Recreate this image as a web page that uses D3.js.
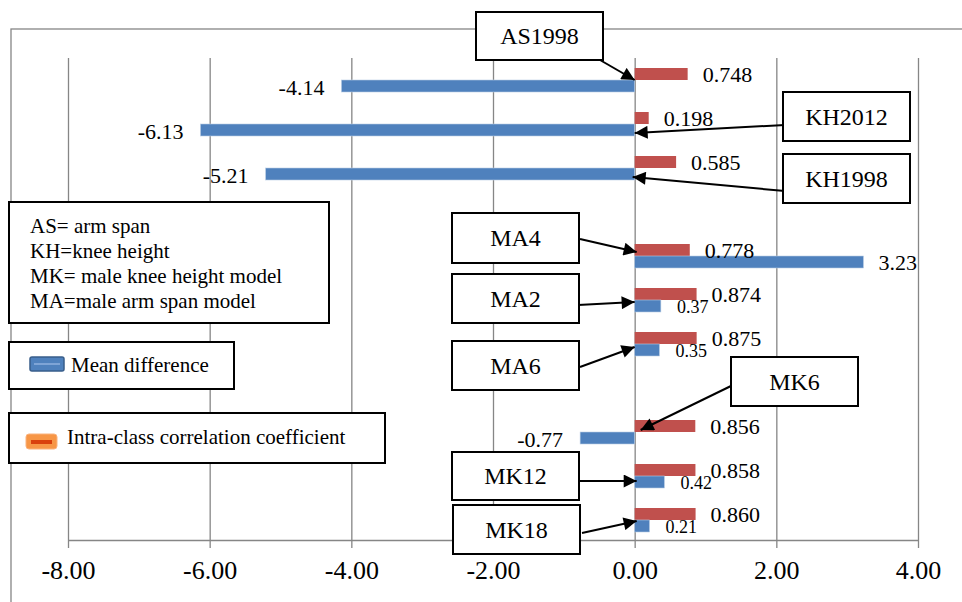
<!DOCTYPE html>
<html>
<head>
<meta charset="utf-8">
<script src="https://cdn.jsdelivr.net/npm/d3@7"></script>
<style>
    body { margin: 0; background: #fff; }
    svg { display: block; }
</style>
</head>
<body>
<svg id="chart" width="962" height="602" font-family="'Liberation Serif', 'Times New Roman', serif"></svg>
<script>
// categories top to bottom, two blank rows as in the original
const categories = ["AS1998", "KH2012", "KH1998", "", "MA4", "MA2", "MA6", " ", "MK6", "MK12", "MK18"];
const meanDifference = [-4.14, -6.13, -5.21, null, 3.23, 0.37, 0.35, null, -0.77, 0.42, 0.21];
const iccValues = [0.748, 0.198, 0.585, null, 0.778, 0.874, 0.875, null, 0.856, 0.858, 0.860];
const xTicks = [-8, -6, -4, -2, 0, 2, 4];
const seriesNames = ["Mean difference", "Intra-class correlation coefficient"];
const legendNotes = ["AS= arm span", "KH=knee height", "MK= male knee height model", "MA=male arm span model"];

const blue = "#4f81bd";
const red = "#c0504d";
const grey = "#868686";
const serif = "'Liberation Serif', 'Times New Roman', serif";

// callout boxes (layout only): box x,y,w,h, line start, tip offset from band centre
const callouts = [
    {cat: "AS1998", box: [476, 12, 127, 48], from: [600, 60], dx: 0, dy: 0},
    {cat: "KH2012", box: [783, 92, 127, 49], from: [785, 125], dx: 0, dy: 9},
    {cat: "KH1998", box: [783, 154, 127, 49], from: [785, 191], dx: -2, dy: 9},
    {cat: "MA4", box: [452, 213, 127, 50], from: [580, 239], dx: 2, dy: -4},
    {cat: "MA2", box: [452, 274, 127, 49], from: [578, 305], dx: 0, dy: 2},
    {cat: "MA6", box: [452, 341, 127, 49], from: [580, 367], dx: 0, dy: 3},
    {cat: "MK6", box: [731, 357, 127, 49], from: [733, 385], dx: 6, dy: -2},
    {cat: "MK12", box: [452, 452, 127, 48], from: [580, 481], dx: 2, dy: 5},
    {cat: "MK18", box: [453, 505, 127, 49], from: [582, 533], dx: 2, dy: 1}
];

// plain hyphen for negatives, like the original
const locale = d3.formatLocale({decimal: ".", thousands: ",", grouping: [3], currency: ["", ""], minus: "-"});
const fmt2 = locale.format(".2f");
const fmt3 = locale.format(".3f");

const svg = d3.select("#chart");
const plotTop = 58, plotBottom = 540;

const x = d3.scaleLinear().domain([-8, 4]).range([68, 918]);
const y = d3.scaleBand().domain(categories).range([plotTop, 542])
    .paddingInner(20 / 44).paddingOuter(10 / 44);
const sub = d3.scaleBand().domain(["icc", "md"]).range([0, y.bandwidth()]);

// chart area border
svg.append("rect")
    .attr("x", 11).attr("y", 29)
    .attr("width", 1000).attr("height", 1000)
    .attr("fill", "none").attr("stroke", grey).attr("stroke-width", 1.3);

// vertical gridlines
let grid = svg.append("g")
    .attr("transform", `translate(0,${plotBottom})`)
    .call(d3.axisBottom(x).tickValues(xTicks).tickSize(-(plotBottom - plotTop)).tickFormat(""));
grid.select(".domain").remove();
grid.selectAll("line").attr("stroke", grey).attr("stroke-width", 1.3);

// bottom axis
let axis = svg.append("g")
    .attr("transform", `translate(0,${plotBottom})`)
    .call(d3.axisBottom(x).tickValues(xTicks).tickFormat(fmt2)
        .tickSize(8).tickSizeOuter(0).tickPadding(13));
axis.attr("font-family", serif);
axis.select(".domain").attr("stroke", grey).attr("stroke-width", 1.3);
axis.selectAll("line").attr("stroke", grey).attr("stroke-width", 1.3);
axis.selectAll("text").attr("font-size", 26).attr("fill", "#000");

let rows = categories.map((c, i) => ({cat: c, md: meanDifference[i], icc: iccValues[i]}))
    .filter(d => d.md !== null);

// bars
svg.append("g").selectAll("rect")
    .data(rows).enter().append("rect")
    .attr("x", d => x(Math.min(0, d.icc)))
    .attr("y", d => y(d.cat) + sub("icc"))
    .attr("width", d => Math.abs(x(d.icc) - x(0)))
    .attr("height", sub.bandwidth())
    .attr("fill", red);

svg.append("g").selectAll("rect")
    .data(rows).enter().append("rect")
    .attr("x", d => x(Math.min(0, d.md)))
    .attr("y", d => y(d.cat) + sub("md"))
    .attr("width", d => Math.abs(x(d.md) - x(0)))
    .attr("height", sub.bandwidth())
    .attr("fill", blue)
    .attr("stroke", "#b9cde5").attr("stroke-width", 0.6);

// data labels
svg.append("g").selectAll("text")
    .data(rows).enter().append("text")
    .attr("x", d => x(d.icc) + 15)
    .attr("y", d => y(d.cat) + sub("icc") + sub.bandwidth() / 2 + 8)
    .attr("font-size", 22)
    .text(d => fmt3(d.icc));

svg.append("g").selectAll("text")
    .data(rows).enter().append("text")
    .each(function (d) {
        let cy = y(d.cat) + sub("md") + sub.bandwidth() / 2;
        let t = d3.select(this).text(fmt2(d.md));
        if (d.md < 0) {
            t.attr("x", x(d.md) - 17).attr("y", cy + 9).attr("text-anchor", "end").attr("font-size", 22);
        } else if (d.md >= 1) {
            t.attr("x", x(d.md) + 15).attr("y", cy + 8).attr("font-size", 22);
        } else {
            t.attr("x", x(d.md) + 16).attr("y", cy + 7).attr("font-size", 18);
        }
    });

// arrow head
svg.append("defs").append("marker")
    .attr("id", "head")
    .attr("viewBox", "0 0 10 10")
    .attr("refX", 10).attr("refY", 5)
    .attr("markerWidth", 15).attr("markerHeight", 13)
    .attr("markerUnits", "userSpaceOnUse")
    .attr("orient", "auto")
    .append("path").attr("d", "M0,0L10,5L0,10Z").attr("fill", "#000");

// callouts
let co = svg.append("g").selectAll("g").data(callouts).enter().append("g");
co.append("line")
    .attr("x1", d => d.from[0]).attr("y1", d => d.from[1])
    .attr("x2", d => x(0) + d.dx)
    .attr("y2", d => y(d.cat) + y.bandwidth() / 2 + d.dy)
    .attr("stroke", "#000").attr("stroke-width", 2)
    .attr("marker-end", "url(#head)");
co.append("rect")
    .attr("x", d => d.box[0]).attr("y", d => d.box[1])
    .attr("width", d => d.box[2]).attr("height", d => d.box[3])
    .attr("fill", "#fff").attr("stroke", "#000").attr("stroke-width", 2);
co.append("text")
    .attr("x", d => d.box[0] + d.box[2] / 2)
    .attr("y", d => d.box[1] + d.box[3] / 2 + 8)
    .attr("text-anchor", "middle").attr("font-size", 24)
    .text(d => d.cat);

// abbreviation note
svg.append("rect")
    .attr("x", 9).attr("y", 202).attr("width", 320).attr("height", 121)
    .attr("fill", "#fff").attr("stroke", "#000").attr("stroke-width", 2);
svg.append("g").selectAll("text")
    .data(legendNotes).enter().append("text")
    .attr("x", 30).attr("y", (d, i) => 233 + i * 25)
    .attr("font-size", 21)
    .text(d => d);

// legend: mean difference
svg.append("rect")
    .attr("x", 9).attr("y", 342).attr("width", 225).attr("height", 47)
    .attr("fill", "#fff").attr("stroke", "#000").attr("stroke-width", 2);
svg.append("rect")
    .attr("x", 30).attr("y", 357).attr("width", 34).attr("height", 14).attr("rx", 2)
    .attr("fill", blue).attr("stroke", "#385d8a").attr("stroke-width", 1.5);
svg.append("rect")
    .attr("x", 34).attr("y", 363).attr("width", 26).attr("height", 2)
    .attr("fill", "#7ea4d6");
svg.append("text")
    .attr("x", 71).attr("y", 372).attr("font-size", 21)
    .text(seriesNames[0]);

// legend: ICC
svg.append("rect")
    .attr("x", 9).attr("y", 413).attr("width", 376).attr("height", 50)
    .attr("fill", "#fff").attr("stroke", "#000").attr("stroke-width", 2);
svg.append("rect")
    .attr("x", 26).attr("y", 434).attr("width", 31).attr("height", 15).attr("rx", 3)
    .attr("fill", "#f79646").attr("stroke", "#fab27d").attr("stroke-width", 1);
svg.append("rect")
    .attr("x", 31).attr("y", 440).attr("width", 21).attr("height", 4)
    .attr("fill", "#d9400d");
svg.append("text")
    .attr("x", 67).attr("y", 444).attr("font-size", 21)
    .text(seriesNames[1]);
</script>
</body>
</html>
